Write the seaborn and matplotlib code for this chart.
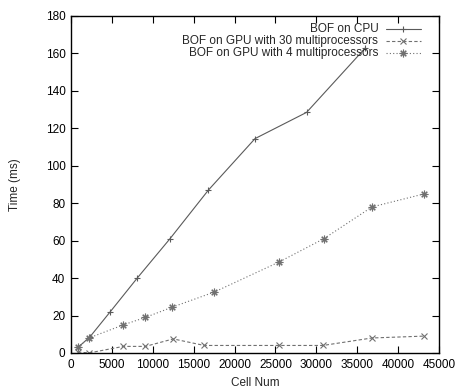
import matplotlib.pyplot as plt
import matplotlib.lines as mlines
import numpy as np
import pandas as pd
import seaborn as sns

cpu_cells = [860, 2300, 4800, 8100, 12100, 16800, 22500, 28800, 36000]
cpu_time = [3, 8.5, 22, 40, 61, 87, 114.5, 128.5, 163]

gpu30_cells = [860, 2200, 6400, 9100, 12500, 16300, 25400, 30800, 36800, 43200]
gpu30_time = [0.5, 0, 3.5, 3.5, 7.5, 4, 4, 4, 8, 9]

gpu4_cells = [860, 2200, 6400, 9100, 12400, 17500, 25400, 30900, 36800, 43200]
gpu4_time = [3, 8, 15, 19, 24.5, 32.5, 48.5, 61, 78, 85]

labels = ["BOF on CPU", "BOF on GPU with 30 multiprocessors",
          "BOF on GPU with 4 multiprocessors"]

sns.set_style("ticks")
plt.rcParams['font.family'] = ['Liberation Sans', 'DejaVu Sans']
plt.rcParams['font.size'] = 8.5

fig = plt.figure(figsize=(4.55, 3.9), dpi=100)
ax = fig.add_axes([0.156, 0.095, 0.809, 0.864])

styles = [
    dict(linestyle="-", marker="+", ms=5, color="#5a5a5a"),
    dict(linestyle=(0, (3, 2)), marker="x", ms=4.5, color="#707070"),
    dict(linestyle=(0, (1, 2)), marker=(8, 2, 0), ms=5.5, color="#707070"),
]
series = [(cpu_cells, cpu_time), (gpu30_cells, gpu30_time), (gpu4_cells, gpu4_time)]

for (xs, ys), st in zip(series, styles):
    df = pd.DataFrame({"cells": xs, "time": ys})
    sns.lineplot(data=df, x="cells", y="time", ax=ax, lw=0.8,
                 mew=0.8, mec=st["color"], **st)

ax.set_xlim(0, 45000)
ax.set_ylim(0, 180)
ax.set_xticks(np.arange(0, 45001, 5000))
ax.set_yticks(np.arange(0, 181, 20))
ax.tick_params(direction="in", length=5, width=0.8, top=True, right=True,
               labelsize=8.5, colors="black", pad=4)
for s in ax.spines.values():
    s.set_linewidth(1.0)
    s.set_color("black")
ax.set_xlabel("Cell Num", fontsize=8.5, labelpad=5)
ax.set_ylabel("Time (ms)", fontsize=8.5, labelpad=18)

# gnuplot-style key: right aligned text, sample to the right
for i, (lab, st) in enumerate(zip(labels, styles)):
    yk = 0.962 - i * 0.036
    ax.text(0.835, yk, lab, transform=ax.transAxes, ha="right", va="center",
            fontsize=8.5)
    ax.add_line(mlines.Line2D([0.855, 0.95], [yk, yk], transform=ax.transAxes,
                              color=st["color"], lw=0.8, linestyle=st["linestyle"]))
    ax.add_line(mlines.Line2D([0.9025], [yk], transform=ax.transAxes,
                              color=st["color"], marker=st["marker"], ms=st["ms"],
                              mew=0.8, linestyle="none"))

fig.savefig("out.png", dpi=100)
